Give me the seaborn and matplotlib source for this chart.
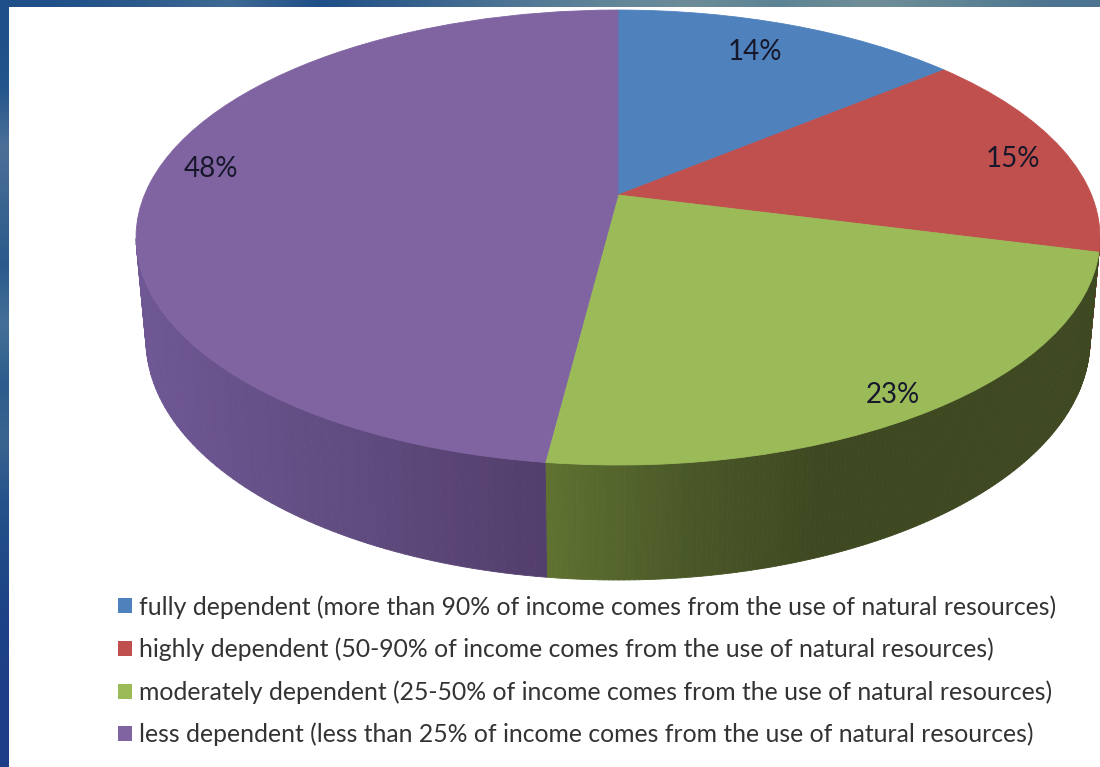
import numpy as np
import matplotlib
matplotlib.use("Agg")
import matplotlib.pyplot as plt
from matplotlib.collections import PolyCollection
from matplotlib.colors import to_rgb
from matplotlib.patches import Patch, Rectangle
from matplotlib.transforms import Transform
import seaborn as sns

categories = [
    "fully dependent (more than 90% of income comes from the use of natural resources)",
    "highly dependent (50-90% of income comes from the use of natural resources)",
    "moderately dependent (25-50% of income comes from the use of natural resources)",
    "less dependent (less than 25% of income comes from the use of natural resources)",
]
values = [14, 15, 23, 48]
top_colors = ["#4f81bd", "#c0504d", "#9bbb59", "#8064a2"]
wall_shades = [
    ["#3a6090", "#3a6090"],
    ["#8a3a38", "#8a3a38"],
    ["#5f7230", "#4a5828", "#3e4821", "#3e4821", "#3e4821"],
    ["#6e5794", "#614c80", "#523e6c"],
]
label_xy = [(755, 52), (1013, 159), (893, 395), (211, 169)]
top_strip = ["#1f4f88", "#2c5a8c", "#3f6a94", "#1f4f88", "#34608c", "#4d7494",
             "#5f8498", "#6d8c98", "#5d8494", "#708e98", "#5f8494", "#4c7490"]
left_strip = ["#1f4f88", "#24558c", "#4c7098", "#3a6490", "#2a5a8c", "#447098",
              "#2c5c8c", "#3a6490", "#24528a", "#1f4a86", "#1d4286", "#1d3f87", "#1d3f87"]


class Perspective(Transform):
    """Projective view of the unit-circle pie onto the picture plane."""
    input_dims = output_dims = 2
    is_affine = False
    k = 0.1868

    def transform_non_affine(self, xy):
        xy = np.asarray(xy, dtype=float)
        u, v = xy[:, 0], xy[:, 1]
        d = 1 + self.k * v
        return np.column_stack([618 + 473.5 * u / d, (195 - 183.1 * v) / d])


sns.set_theme(style="white")
plt.rcParams["font.family"] = ["Lato", "DejaVu Sans"]

fig = plt.figure(figsize=(11, 7.67), dpi=100, facecolor="#1d3f87")
ax = fig.add_axes([0, 0, 1, 1])

wedges, _, autotexts = ax.pie(values, colors=top_colors, startangle=90, counterclock=False,
                              autopct="%.0f%%", wedgeprops=dict(linewidth=0.6))
ax.set_aspect("auto")

persp = Perspective()


def strip(colors, extent, vertical):
    arr = np.array([to_rgb(c) for c in colors])
    arr = arr[:, None, :] if vertical else arr[None, :, :]
    ax.imshow(arr, extent=extent, aspect="auto", interpolation="bilinear", zorder=0)


strip(left_strip, (0, 9, 767, 0), True)
strip(top_strip, (0, 1100, 7, 0), False)
ax.add_patch(Rectangle((9, 7), 1091, 760, facecolor="white", edgecolor="none", zorder=0.5))
ax.set_xlim(0, 1100)
ax.set_ylim(767, 0)

for wedge, shades, xy, txt, face in zip(wedges, wall_shades, label_xy, autotexts, top_colors):
    # side wall below the front rim of this slice
    th = np.radians(np.linspace(wedge.theta1, wedge.theta2, 160))
    top = persp.transform_non_affine(np.column_stack([np.cos(th), np.sin(th)]))
    t = np.arctan2((top[:, 1] - 237) / 228, (top[:, 0] - 618) / 482)
    keep = (t > 0)
    if keep.sum() > 1:
        tt, xt, yt = t[keep], top[keep, 0], top[keep, 1]
        xb = 618 + 472 * np.cos(tt)
        yb = 340 + 240 * np.sin(tt)
        quads = [[(xt[i], yt[i]), (xt[i + 1], yt[i + 1]), (xb[i + 1], yb[i + 1]), (xb[i], yb[i])]
                 for i in range(len(tt) - 1)]
        cmap = sns.blend_palette(shades, as_cmap=True)
        s = (xt[:-1] - xt.min()) / max(xt.max() - xt.min(), 1)
        cols = cmap(s)
        ax.add_collection(PolyCollection(quads, facecolors=cols, edgecolors=cols,
                                         linewidths=0.6, zorder=1))
    wedge.set_transform(persp + ax.transData)
    wedge.set_edgecolor(face)
    wedge.set_zorder(2)
    txt.set_position(xy)
    txt.set_transform(ax.transData)
    txt.set_fontsize(20)
    txt.set_color("#17172c")
    txt.set_zorder(3)

handles = [Patch(facecolor=c, edgecolor="none") for c in top_colors]
leg = ax.legend(handles, categories, loc="upper left", bbox_to_anchor=(118 / 1100, 1 - 595 / 767),
                bbox_transform=ax.transAxes, frameon=False, fontsize=17.8,
                labelcolor="#333333", handlelength=0.57, handleheight=0.57,
                handletextpad=0.29, labelspacing=0.77, borderpad=0, borderaxespad=0)
leg.set_zorder(4)

ax.set_axis_off()
fig.savefig("out.png", dpi=100, facecolor=fig.get_facecolor())
